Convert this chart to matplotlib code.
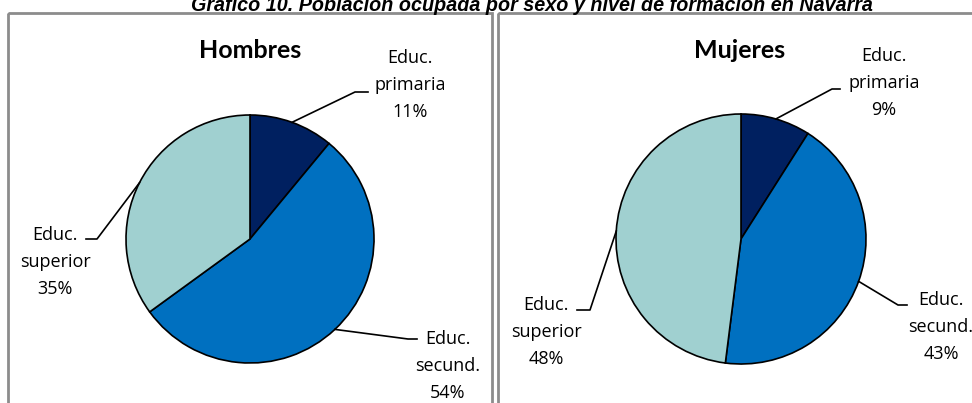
import matplotlib
matplotlib.use("Agg")
import matplotlib.pyplot as plt
from matplotlib.patches import Rectangle
import numpy as np

title = "Gráfico 10. Población ocupada por sexo y nivel de formación en Navarra"
panels = ["Hombres", "Mujeres"]
categories = ["Educ.\nprimaria", "Educ.\nsecund.", "Educ.\nsuperior"]
hombres = [11, 54, 35]
mujeres = [9, 43, 48]
colors = ["#002060", "#0070C0", "#A0D0D0"]

W, H = 972, 403
fig = plt.figure(figsize=(W / 100, H / 100), dpi=100)
ax = fig.add_axes([0, 0, 1, 1])
ax.set_xlim(0, W)
ax.set_ylim(H, 0)
ax.set_aspect("equal")
ax.axis("off")

# panel frames
ax.add_patch(Rectangle((8, 13), 484, 420, fill=False, ec="#8C8C8C", lw=2))
ax.add_patch(Rectangle((498, 13), 484, 420, fill=False, ec="#8C8C8C", lw=2))

ax.text(532, 11, title, ha="center", va="baseline", fontsize=14.2,
        fontweight="bold", fontstyle="italic", family="Liberation Sans")

layout = [
    dict(center=(250, 239), r=124, title_xy=(250, 50),
         elbows=[(355, 92), (408, 339), (97, 239)],
         ends=[(368, 92), (417, 339), (86, 239)],
         texts=[(410, 85), (448, 366), (55, 262)]),
    dict(center=(741, 239), r=125, title_xy=(740, 50),
         elbows=[(832, 89), (898, 305), (590, 310)],
         ends=[(840, 89), (907, 305), (577, 310)],
         texts=[(884, 83), (941, 327), (546, 332)]),
]

for name, vals, lay in zip(panels, [hombres, mujeres], layout):
    cx, cy = lay["center"]
    r = lay["r"]
    wedges, _ = ax.pie(vals, colors=colors, startangle=-90, counterclock=True,
                       center=(cx, cy), radius=r, frame=True,
                       wedgeprops=dict(edgecolor="black", linewidth=1.2))
    ax.text(lay["title_xy"][0], lay["title_xy"][1], name, ha="center", va="center",
            fontsize=18, fontweight="bold", family="Lato")
    total = sum(vals)
    for i, (w, v) in enumerate(zip(wedges, vals)):
        mid = np.deg2rad((w.theta1 + w.theta2) / 2)
        px, py = cx + r * np.cos(mid), cy + r * np.sin(mid)
        ex, ey = lay["elbows"][i]
        tx, ty = lay["ends"][i]
        ax.plot([px, ex, tx], [py, ey, ey], color="black", lw=1.2)
        lx, ly = lay["texts"][i]
        ax.text(lx, ly, f"{categories[i]}\n{round(100 * v / total)}%", ha="center",
                va="center", fontsize=13, family="Open Sans", linespacing=1.62)

ax.set_xlim(0, W)
ax.set_ylim(H, 0)
ax.axis("off")
fig.savefig("out.png", dpi=100)
